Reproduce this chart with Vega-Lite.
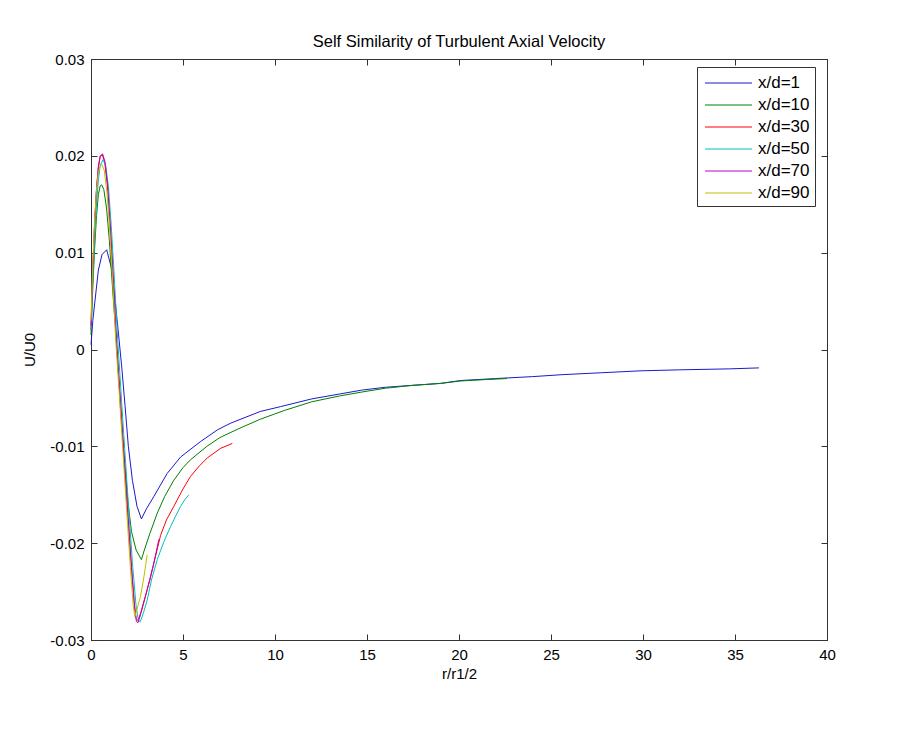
{
  "$schema": "https://vega.github.io/schema/vega-lite/v6.json",
  "width": 736,
  "height": 581,
  "autosize": {"type": "none"},
  "padding": {"left": 91, "top": 59, "right": 75, "bottom": 96},
  "background": "white",
  "title": {
    "text": "Self Similarity of Turbulent Axial Velocity",
    "font": "Liberation Sans",
    "fontSize": 16.5,
    "fontWeight": "normal",
    "color": "#000",
    "offset": 2
  },
  "data": {
    "values": [
      {"s": "x/d=1", "r": 0, "u": 0.0005},
      {"s": "x/d=1", "r": 0.1, "u": 0.003},
      {"s": "x/d=1", "r": 0.22, "u": 0.0051},
      {"s": "x/d=1", "r": 0.4, "u": 0.0082},
      {"s": "x/d=1", "r": 0.6, "u": 0.0098},
      {"s": "x/d=1", "r": 0.85, "u": 0.0103},
      {"s": "x/d=1", "r": 1.1, "u": 0.0085},
      {"s": "x/d=1", "r": 1.31, "u": 0.0051},
      {"s": "x/d=1", "r": 1.5, "u": 0.0015},
      {"s": "x/d=1", "r": 1.67, "u": -0.0018},
      {"s": "x/d=1", "r": 1.85, "u": -0.0058},
      {"s": "x/d=1", "r": 2.03, "u": -0.01},
      {"s": "x/d=1", "r": 2.25, "u": -0.0135},
      {"s": "x/d=1", "r": 2.5, "u": -0.0162},
      {"s": "x/d=1", "r": 2.74, "u": -0.0175},
      {"s": "x/d=1", "r": 3.0, "u": -0.0165},
      {"s": "x/d=1", "r": 3.41, "u": -0.0152},
      {"s": "x/d=1", "r": 4.14, "u": -0.0128},
      {"s": "x/d=1", "r": 4.87, "u": -0.0111},
      {"s": "x/d=1", "r": 5.96, "u": -0.0095},
      {"s": "x/d=1", "r": 6.87, "u": -0.0083},
      {"s": "x/d=1", "r": 7.6, "u": -0.0076},
      {"s": "x/d=1", "r": 9.2, "u": -0.0064},
      {"s": "x/d=1", "r": 10.3, "u": -0.0059},
      {"s": "x/d=1", "r": 12, "u": -0.0051},
      {"s": "x/d=1", "r": 13.5, "u": -0.0046},
      {"s": "x/d=1", "r": 14.7, "u": -0.0042},
      {"s": "x/d=1", "r": 16, "u": -0.0039},
      {"s": "x/d=1", "r": 17.5, "u": -0.0037},
      {"s": "x/d=1", "r": 19, "u": -0.0035},
      {"s": "x/d=1", "r": 20.1, "u": -0.0032},
      {"s": "x/d=1", "r": 22, "u": -0.003},
      {"s": "x/d=1", "r": 24, "u": -0.0028},
      {"s": "x/d=1", "r": 25.6, "u": -0.0026},
      {"s": "x/d=1", "r": 27.75, "u": -0.0024},
      {"s": "x/d=1", "r": 29.9, "u": -0.0022},
      {"s": "x/d=1", "r": 32, "u": -0.0021},
      {"s": "x/d=1", "r": 34.7, "u": -0.002},
      {"s": "x/d=1", "r": 36.3, "u": -0.0019},

      {"s": "x/d=10", "r": 0, "u": 0.0015},
      {"s": "x/d=10", "r": 0.1, "u": 0.0065},
      {"s": "x/d=10", "r": 0.2, "u": 0.0105},
      {"s": "x/d=10", "r": 0.3, "u": 0.0138},
      {"s": "x/d=10", "r": 0.4, "u": 0.016},
      {"s": "x/d=10", "r": 0.5, "u": 0.0169},
      {"s": "x/d=10", "r": 0.58, "u": 0.017},
      {"s": "x/d=10", "r": 0.7, "u": 0.0165},
      {"s": "x/d=10", "r": 0.85, "u": 0.0145},
      {"s": "x/d=10", "r": 1.0, "u": 0.0112},
      {"s": "x/d=10", "r": 1.2, "u": 0.0055},
      {"s": "x/d=10", "r": 1.42, "u": 0.0},
      {"s": "x/d=10", "r": 1.6, "u": -0.006},
      {"s": "x/d=10", "r": 1.8, "u": -0.011},
      {"s": "x/d=10", "r": 2.0, "u": -0.0156},
      {"s": "x/d=10", "r": 2.2, "u": -0.0188},
      {"s": "x/d=10", "r": 2.45, "u": -0.0207},
      {"s": "x/d=10", "r": 2.74, "u": -0.0217},
      {"s": "x/d=10", "r": 2.9, "u": -0.0207},
      {"s": "x/d=10", "r": 3.2, "u": -0.019},
      {"s": "x/d=10", "r": 3.6, "u": -0.0169},
      {"s": "x/d=10", "r": 4.0, "u": -0.0152},
      {"s": "x/d=10", "r": 4.5, "u": -0.0135},
      {"s": "x/d=10", "r": 5.0, "u": -0.0122},
      {"s": "x/d=10", "r": 5.4, "u": -0.0114},
      {"s": "x/d=10", "r": 6.3, "u": -0.01},
      {"s": "x/d=10", "r": 7.0, "u": -0.0091},
      {"s": "x/d=10", "r": 8.0, "u": -0.0082},
      {"s": "x/d=10", "r": 9.2, "u": -0.0072},
      {"s": "x/d=10", "r": 10.5, "u": -0.0063},
      {"s": "x/d=10", "r": 12, "u": -0.0054},
      {"s": "x/d=10", "r": 13.5, "u": -0.0048},
      {"s": "x/d=10", "r": 14.7, "u": -0.0044},
      {"s": "x/d=10", "r": 16, "u": -0.004},
      {"s": "x/d=10", "r": 17.5, "u": -0.0037},
      {"s": "x/d=10", "r": 19, "u": -0.0035},
      {"s": "x/d=10", "r": 20.1, "u": -0.00325},
      {"s": "x/d=10", "r": 21.5, "u": -0.0031},
      {"s": "x/d=10", "r": 22.6, "u": -0.003},

      {"s": "x/d=30", "r": 0, "u": 0.002},
      {"s": "x/d=30", "r": 0.1, "u": 0.0085},
      {"s": "x/d=30", "r": 0.2, "u": 0.013},
      {"s": "x/d=30", "r": 0.3, "u": 0.0165},
      {"s": "x/d=30", "r": 0.4, "u": 0.0188},
      {"s": "x/d=30", "r": 0.5, "u": 0.0199},
      {"s": "x/d=30", "r": 0.62, "u": 0.0201},
      {"s": "x/d=30", "r": 0.75, "u": 0.0193},
      {"s": "x/d=30", "r": 0.9, "u": 0.0168},
      {"s": "x/d=30", "r": 1.05, "u": 0.0125},
      {"s": "x/d=30", "r": 1.2, "u": 0.0075},
      {"s": "x/d=30", "r": 1.4, "u": 0.0},
      {"s": "x/d=30", "r": 1.6, "u": -0.0055},
      {"s": "x/d=30", "r": 1.8, "u": -0.0113},
      {"s": "x/d=30", "r": 2.0, "u": -0.017},
      {"s": "x/d=30", "r": 2.2, "u": -0.0225},
      {"s": "x/d=30", "r": 2.35, "u": -0.0262},
      {"s": "x/d=30", "r": 2.45, "u": -0.0278},
      {"s": "x/d=30", "r": 2.55, "u": -0.028},
      {"s": "x/d=30", "r": 2.7, "u": -0.0272},
      {"s": "x/d=30", "r": 2.95, "u": -0.0255},
      {"s": "x/d=30", "r": 3.2, "u": -0.0238},
      {"s": "x/d=30", "r": 3.45, "u": -0.0218},
      {"s": "x/d=30", "r": 3.78, "u": -0.0192},
      {"s": "x/d=30", "r": 4.1, "u": -0.0176},
      {"s": "x/d=30", "r": 4.5, "u": -0.0162},
      {"s": "x/d=30", "r": 5.0, "u": -0.0144},
      {"s": "x/d=30", "r": 5.41, "u": -0.0131},
      {"s": "x/d=30", "r": 5.9, "u": -0.012},
      {"s": "x/d=30", "r": 6.32, "u": -0.0112},
      {"s": "x/d=30", "r": 7.05, "u": -0.0102},
      {"s": "x/d=30", "r": 7.68, "u": -0.0097},

      {"s": "x/d=50", "r": 0, "u": 0.002},
      {"s": "x/d=50", "r": 0.1, "u": 0.007},
      {"s": "x/d=50", "r": 0.2, "u": 0.0115},
      {"s": "x/d=50", "r": 0.3, "u": 0.015},
      {"s": "x/d=50", "r": 0.4, "u": 0.0175},
      {"s": "x/d=50", "r": 0.5, "u": 0.019},
      {"s": "x/d=50", "r": 0.65, "u": 0.0196},
      {"s": "x/d=50", "r": 0.8, "u": 0.019},
      {"s": "x/d=50", "r": 0.95, "u": 0.0168},
      {"s": "x/d=50", "r": 1.1, "u": 0.0128},
      {"s": "x/d=50", "r": 1.25, "u": 0.008},
      {"s": "x/d=50", "r": 1.45, "u": 0.001},
      {"s": "x/d=50", "r": 1.65, "u": -0.005},
      {"s": "x/d=50", "r": 1.85, "u": -0.0108},
      {"s": "x/d=50", "r": 2.05, "u": -0.0165},
      {"s": "x/d=50", "r": 2.25, "u": -0.022},
      {"s": "x/d=50", "r": 2.45, "u": -0.0265},
      {"s": "x/d=50", "r": 2.58, "u": -0.028},
      {"s": "x/d=50", "r": 2.68, "u": -0.0281},
      {"s": "x/d=50", "r": 2.85, "u": -0.0272},
      {"s": "x/d=50", "r": 3.05, "u": -0.0259},
      {"s": "x/d=50", "r": 3.3, "u": -0.0237},
      {"s": "x/d=50", "r": 3.6, "u": -0.0217},
      {"s": "x/d=50", "r": 3.95, "u": -0.0199},
      {"s": "x/d=50", "r": 4.32, "u": -0.0183},
      {"s": "x/d=50", "r": 4.6, "u": -0.0172},
      {"s": "x/d=50", "r": 4.87, "u": -0.0162},
      {"s": "x/d=50", "r": 5.1, "u": -0.0155},
      {"s": "x/d=50", "r": 5.32, "u": -0.015},

      {"s": "x/d=70", "r": 0, "u": 0.0025},
      {"s": "x/d=70", "r": 0.1, "u": 0.0085},
      {"s": "x/d=70", "r": 0.2, "u": 0.0132},
      {"s": "x/d=70", "r": 0.3, "u": 0.0166},
      {"s": "x/d=70", "r": 0.4, "u": 0.0189},
      {"s": "x/d=70", "r": 0.5, "u": 0.02},
      {"s": "x/d=70", "r": 0.63, "u": 0.0202},
      {"s": "x/d=70", "r": 0.76, "u": 0.0194},
      {"s": "x/d=70", "r": 0.9, "u": 0.017},
      {"s": "x/d=70", "r": 1.05, "u": 0.0127},
      {"s": "x/d=70", "r": 1.2, "u": 0.0077},
      {"s": "x/d=70", "r": 1.4, "u": 0.0002},
      {"s": "x/d=70", "r": 1.6, "u": -0.0054},
      {"s": "x/d=70", "r": 1.8, "u": -0.0112},
      {"s": "x/d=70", "r": 2.0, "u": -0.0169},
      {"s": "x/d=70", "r": 2.2, "u": -0.0225},
      {"s": "x/d=70", "r": 2.37, "u": -0.0266},
      {"s": "x/d=70", "r": 2.47, "u": -0.0281},
      {"s": "x/d=70", "r": 2.56, "u": -0.0282},
      {"s": "x/d=70", "r": 2.72, "u": -0.0272},
      {"s": "x/d=70", "r": 2.96, "u": -0.0255},
      {"s": "x/d=70", "r": 3.2, "u": -0.0237},
      {"s": "x/d=70", "r": 3.41, "u": -0.0221},
      {"s": "x/d=70", "r": 3.69, "u": -0.0196},

      {"s": "x/d=90", "r": 0, "u": 0.003},
      {"s": "x/d=90", "r": 0.1, "u": 0.009},
      {"s": "x/d=90", "r": 0.2, "u": 0.0135},
      {"s": "x/d=90", "r": 0.3, "u": 0.0165},
      {"s": "x/d=90", "r": 0.4, "u": 0.0183},
      {"s": "x/d=90", "r": 0.5, "u": 0.019},
      {"s": "x/d=90", "r": 0.6, "u": 0.0191},
      {"s": "x/d=90", "r": 0.72, "u": 0.0185},
      {"s": "x/d=90", "r": 0.87, "u": 0.0162},
      {"s": "x/d=90", "r": 1.0, "u": 0.0128},
      {"s": "x/d=90", "r": 1.15, "u": 0.008},
      {"s": "x/d=90", "r": 1.35, "u": 0.0008},
      {"s": "x/d=90", "r": 1.55, "u": -0.005},
      {"s": "x/d=90", "r": 1.75, "u": -0.011},
      {"s": "x/d=90", "r": 1.95, "u": -0.017},
      {"s": "x/d=90", "r": 2.15, "u": -0.0228},
      {"s": "x/d=90", "r": 2.3, "u": -0.0265},
      {"s": "x/d=90", "r": 2.38, "u": -0.0276},
      {"s": "x/d=90", "r": 2.5, "u": -0.0268},
      {"s": "x/d=90", "r": 2.69, "u": -0.0255},
      {"s": "x/d=90", "r": 2.9, "u": -0.0232},
      {"s": "x/d=90", "r": 3.05, "u": -0.0212}
    ]
  },
  "layer": [
    {
      "mark": {"type": "line", "strokeWidth": 1},
      "encoding": {
        "x": {
          "field": "r",
          "type": "quantitative",
          "title": "r/r1/2",
          "scale": {"domain": [0, 40], "nice": false, "zero": false},
          "axis": {"orient": "bottom", "values": [0, 5, 10, 15, 20, 25, 30, 35, 40], "titlePadding": 4}
        },
        "y": {
          "field": "u",
          "type": "quantitative",
          "title": "U/U0",
          "scale": {"domain": [-0.03, 0.03], "nice": false, "zero": false},
          "axis": {
            "orient": "left",
            "values": [-0.03, -0.02, -0.01, 0, 0.01, 0.02, 0.03],
            "labelExpr": "replace(format(datum.value, '.2~f'), '\u2212', '-')",
            "titlePadding": 12
          }
        },
        "color": {
          "field": "s",
          "type": "nominal",
          "sort": null,
          "scale": {
            "domain": ["x/d=1", "x/d=10", "x/d=30", "x/d=50", "x/d=70", "x/d=90"],
            "range": ["#1a1acc", "#008000", "#ff0000", "#00bfbf", "#bf00bf", "#bfbf00"]
          },
          "legend": {
            "title": null,
            "orient": "none",
            "legendX": 606,
            "legendY": 8,
            "symbolType": "M-0.73,-0.05H3.55V0.05H-0.73Z",
            "symbolSize": 484,
            "symbolStrokeWidth": 0,
            "labelFont": "Liberation Sans",
            "labelFontSize": 17,
            "labelColor": "#000",
            "labelOffset": 34,
            "strokeColor": "#333",
            "fillColor": "white",
            "padding": 5,
            "rowPadding": 3,
            "encode": {
              "symbols": {
                "update": {
                  "fill": {"scale": "color", "field": "value"},
                  "fillOpacity": {"value": 1},
                  "opacity": {"value": 1}
                }
              }
            }
          }
        }
      }
    },
    {
      "mark": {"type": "point", "opacity": 0},
      "encoding": {
        "x": {
          "field": "r",
          "type": "quantitative",
          "axis": {"orient": "top", "values": [0, 5, 10, 15, 20, 25, 30, 35, 40], "labels": false, "title": null}
        },
        "y": {
          "field": "u",
          "type": "quantitative",
          "axis": {"orient": "right", "values": [-0.03, -0.02, -0.01, 0, 0.01, 0.02, 0.03], "labels": false, "title": null}
        }
      }
    }
  ],
  "resolve": {"axis": {"x": "independent", "y": "independent"}},
  "config": {
    "view": {"stroke": "#333"},
    "axis": {
      "grid": false,
      "labelFlush": false,
      "domainColor": "#333",
      "tickColor": "#333",
      "tickSize": -6,
      "labelPadding": 13,
      "labelFont": "Liberation Sans",
      "labelFontSize": 15,
      "labelColor": "#000",
      "titleFont": "Liberation Sans",
      "titleFontSize": 15,
      "titleFontWeight": "normal",
      "titleColor": "#000"
    }
  }
}
